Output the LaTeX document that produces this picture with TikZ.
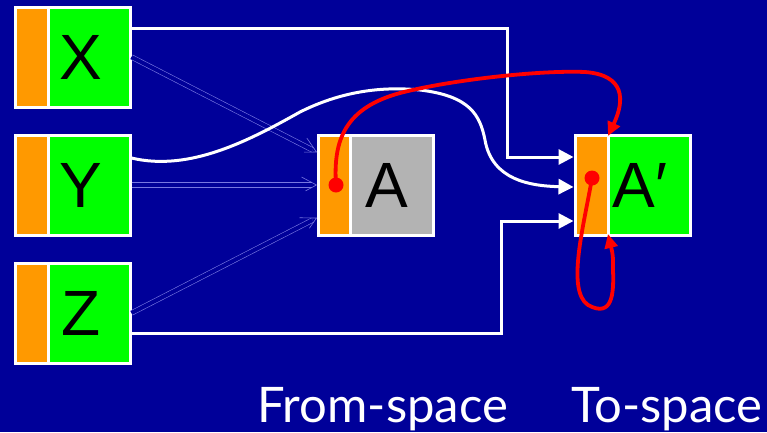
\documentclass[tikz,border=0pt]{standalone}
\usepackage{fontspec}
\setmainfont{Liberation Sans}
\newfontfamily\labelfont{Lato}
\usetikzlibrary{arrows.meta,decorations.markings}
\definecolor{bg}{RGB}{0,0,153}
\definecolor{orng}{RGB}{255,153,0}
\definecolor{grn}{RGB}{0,255,0}
\definecolor{gry}{RGB}{179,179,179}
\definecolor{ptr}{RGB}{120,120,225}
\begin{document}
\begin{tikzpicture}[x=1pt,y=-1pt,
  cell/.style={draw=white,line width=3pt,minimum height=100pt,inner sep=0pt,anchor=center},
  ocell/.style={cell,fill=orng,minimum width=33pt},
  gcell/.style={cell,fill=grn,minimum width=82pt},
  letter/.style={font=\fontsize{64}{64}\selectfont,text=black,inner sep=0pt},
  wline/.style={draw=white,line width=3pt,-{Triangle[length=15pt,width=15pt]}},
  rline/.style={draw=red,line width=3.8pt,-{Triangle[length=14pt,width=13pt]}},
  dline/.style={draw=ptr,line width=0.6pt,double=bg,double distance=4pt,shorten >=4.5pt,
    postaction={decorate},
    decoration={markings,mark=at position 1 with {\draw[ptr,line width=0.6pt,line join=miter] (-15pt,8pt) -- (0,0) -- (-15pt,-8pt);}}},
  spacelabel/.style={font=\labelfont\fontsize{49}{49}\selectfont,text=white,anchor=base,inner sep=0pt}]
\fill[bg] (0,0) rectangle (767,432);
\useasboundingbox (0,0) rectangle (767,432);
% from-space left objects
\node[ocell] (xo) at (31.5,57) {};
\node[gcell,label={[letter,xshift=-8pt]center:X}] (xg) at (89,57) {};
\node[ocell] (yo) at (31.5,185) {};
\node[gcell,label={[letter,xshift=-8pt]center:Y}] (yg) at (89,185) {};
\node[ocell] (zo) at (31.5,313) {};
\node[gcell,label={[letter,xshift=-8pt]center:Z}] (zg) at (89,313) {};
% A
\node[ocell,minimum width=32pt] (ao) at (334,185) {};
\node[cell,fill=gry,minimum width=83pt,label={[letter,xshift=-5pt]center:A}] (ag) at (391.5,185) {};
% A'
\node[ocell] (apo) at (591.5,185) {};
\node[gcell,label={[letter,xshift=-9pt]center:A′}] (apg) at (649,185) {};
% old pointers into from-space
\draw[dline] (xg.east) -- ([yshift=33pt]ao.west);
\draw[dline] (yg.east) -- (ao.west);
\draw[dline] (zg.east) -- ([yshift=-33pt]ao.west);
% updated pointers into to-space
\draw[wline] ([yshift=29pt]xg.east) -- (507,28) |- ([yshift=28pt]apo.west);
\draw[wline] ([yshift=27pt]yg.east) .. controls (190,172) and (250,140) .. (300,112)
  .. controls (340,92) and (380,86) .. (420,90)
  .. controls (470,96) and (480,115) .. (485,140)
  .. controls (492,180) and (530,186) .. ([yshift=-2pt]apo.west);
\draw[wline] ([yshift=-20pt]zg.east) -- (501,333) |- ([yshift=-36pt]apo.west);
% forwarding pointers
\node[circle,fill=red,inner sep=0pt,minimum size=15pt] (ad) at (336,185) {};
\node[circle,fill=red,inner sep=0pt,minimum size=15pt] (apd) at (592,178) {};
\coordinate (aptop) at (608,136);
\coordinate (apbot) at (608,234);
\draw[rline] (ad.center) .. controls (333,140) and (345,108) .. (400,93)
  .. controls (450,80) and (540,70) .. (585,72)
  .. controls (625,75) and (625,100) .. (aptop);
\draw[rline] (apd.center) .. controls (584,225) and (566,290) .. (588,305)
  .. controls (612,318) and (614,295) .. (613,270)
  .. controls (613,255) .. (apbot);
% labels
\node[spacelabel] (fs) at (382.5,422) {From-space};
\node[spacelabel] (ts) at (667,422) {To-space};
\end{tikzpicture}
\end{document}
